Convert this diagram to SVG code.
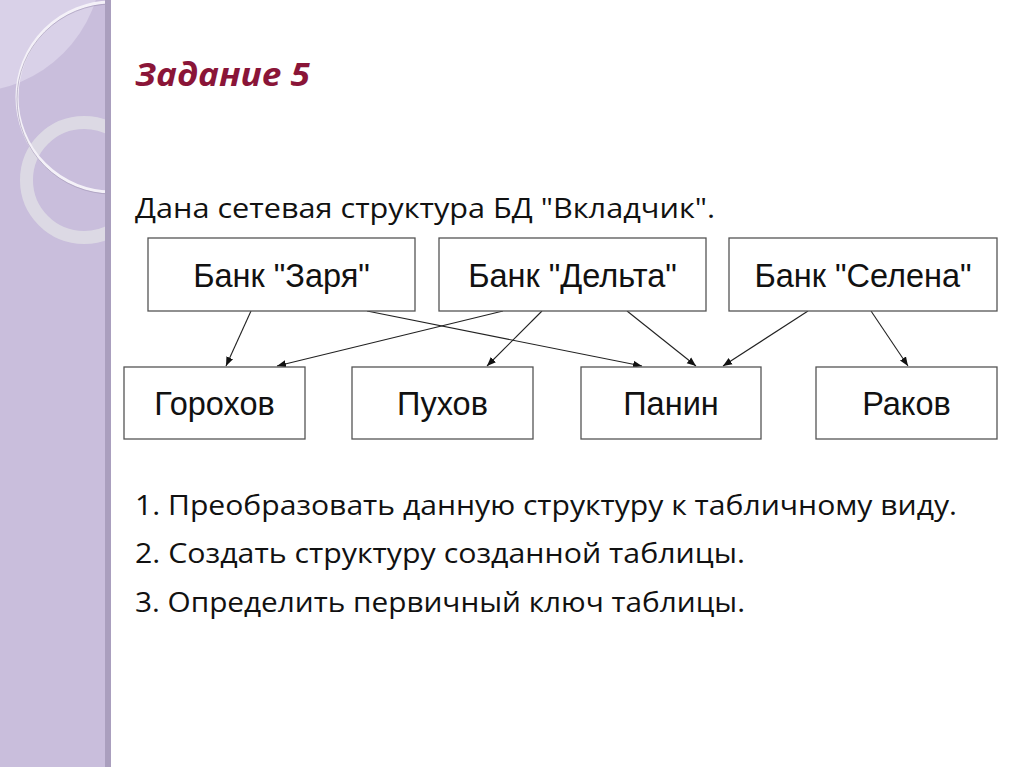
<svg xmlns="http://www.w3.org/2000/svg" width="1024" height="767" viewBox="0 0 1024 767">
<defs>
<style>
.box{fill:#fff;stroke:#555;stroke-width:1.3}
.bt{font-family:"Liberation Sans",Arial,sans-serif;font-size:32.5px;fill:#111;text-anchor:middle}
.body{font-family:"Open Sans","Noto Sans",sans-serif;font-size:28px;fill:#111}
.edge{stroke:#222;stroke-width:1.1;fill:none;marker-end:url(#ah)}
</style>
<marker id="ah" viewBox="0 0 10 10" refX="10" refY="5" markerWidth="9" markerHeight="9" markerUnits="userSpaceOnUse" orient="auto">
<path d="M0,1 L10,5 L0,9 z" fill="#111"/>
</marker>
<clipPath id="side"><rect x="0" y="0" width="110" height="767"/></clipPath>
</defs>
<rect width="1024" height="767" fill="#fff"/>
<g id="sidebar">
<rect x="0" y="0" width="111" height="767" fill="#c9bedc"/>
<g clip-path="url(#side)">
<circle cx="-30" cy="-40" r="132" fill="#d9d1e8"/>
<circle cx="84" cy="180" r="57.5" fill="none" stroke="#dedbe4" stroke-width="13" opacity="0.9"/>
<circle cx="112" cy="97" r="95" fill="none" stroke="#f4f1f8" stroke-width="3"/>
<circle cx="112" cy="99" r="95" fill="none" stroke="#9e92b3" stroke-width="1" opacity="0.6"/>
</g>
<rect x="105" y="0" width="6" height="767" fill="#aa9fbe"/>
</g>
<text id="title" x="135" y="86" font-family="'Open Sans','Noto Sans',sans-serif" font-size="33" font-weight="bold" font-style="italic" fill="#8a1538" textLength="175" lengthAdjust="spacingAndGlyphs">Задание 5</text>
<text id="intro" class="body" x="135" y="218" textLength="580" lengthAdjust="spacingAndGlyphs">Дана сетевая структура БД "Вкладчик".</text>
<g id="connectors">
<line class="edge" x1="251" y1="311" x2="226" y2="366"/>
<line class="edge" x1="367" y1="311" x2="642" y2="366"/>
<line class="edge" x1="503" y1="311" x2="277" y2="366"/>
<line class="edge" x1="542" y1="311" x2="487" y2="366"/>
<line class="edge" x1="627" y1="311" x2="696" y2="366"/>
<line class="edge" x1="808" y1="311" x2="723" y2="366"/>
<line class="edge" x1="871" y1="311" x2="908" y2="366"/>
</g>
<g id="bank_zarya"><rect class="box" x="148" y="238" width="267" height="73"/><text class="bt" x="281.5" y="287">Банк "Заря"</text></g>
<g id="bank_delta"><rect class="box" x="439" y="238" width="267" height="73"/><text class="bt" x="572.5" y="287">Банк "Дельта"</text></g>
<g id="bank_selena"><rect class="box" x="729" y="238" width="268" height="73"/><text class="bt" x="863" y="287">Банк "Селена"</text></g>
<g id="gorohov"><rect class="box" x="124" y="367" width="181" height="72"/><text class="bt" x="214.5" y="415">Горохов</text></g>
<g id="puhov"><rect class="box" x="352" y="367" width="181" height="72"/><text class="bt" x="442.5" y="415">Пухов</text></g>
<g id="panin"><rect class="box" x="581" y="367" width="180" height="72"/><text class="bt" x="671" y="415">Панин</text></g>
<g id="rakov"><rect class="box" x="816" y="367" width="181" height="72"/><text class="bt" x="906.5" y="415">Раков</text></g>
<text class="body" x="135" y="515" textLength="822" lengthAdjust="spacingAndGlyphs">1. Преобразовать данную структуру к табличному виду.</text>
<text class="body" x="135" y="563" textLength="610" lengthAdjust="spacingAndGlyphs">2. Создать структуру созданной таблицы.</text>
<text class="body" x="135" y="612" textLength="610" lengthAdjust="spacingAndGlyphs">3. Определить первичный ключ таблицы.</text>
</svg>
